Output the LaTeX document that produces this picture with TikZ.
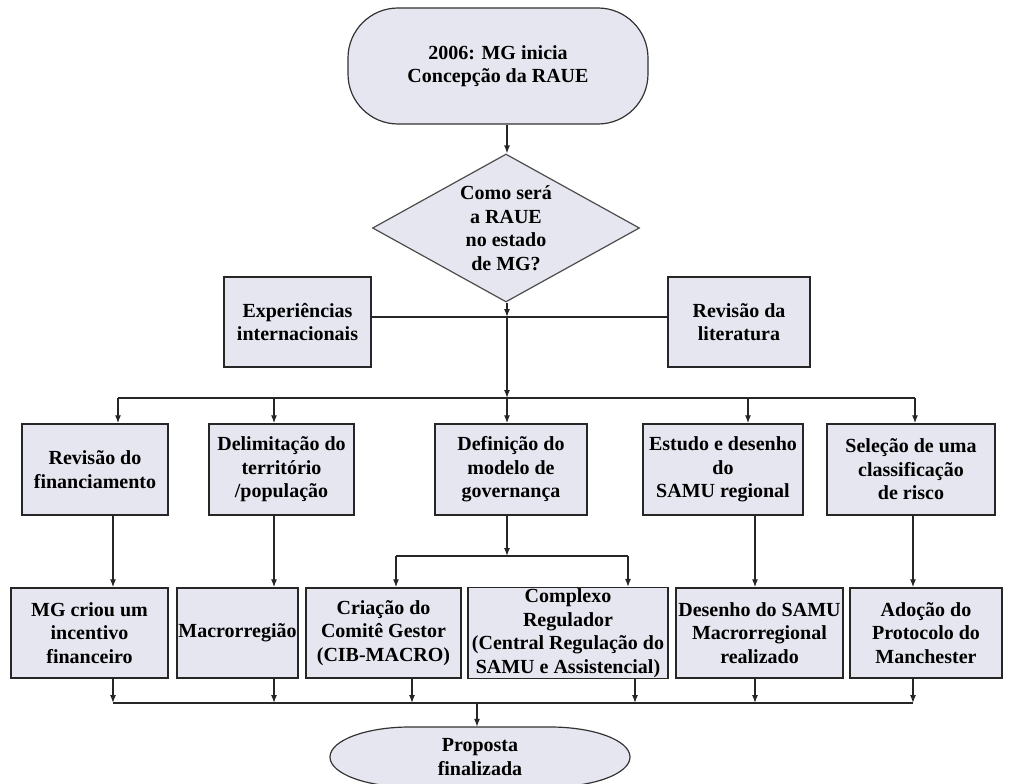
\documentclass[tikz,border=0pt]{standalone}
\usepackage{fontspec}
\setmainfont{Liberation Serif}
\usepackage{tikz}
\usetikzlibrary{shapes,arrows.meta}
\definecolor{fundo}{RGB}{230,230,240}
\tikzstyle{caixa}=[rectangle,draw=black!85,line width=1.5pt,fill=fundo,align=center,inner sep=1pt]
\tikzstyle{decisao}=[diamond,draw=black!70,line width=1.2pt,fill=fundo,align=center,aspect=1.8,inner sep=1pt]
\tikzstyle{terminal}=[rectangle,rounded corners=50pt,draw=black!80,line width=1.2pt,fill=fundo,align=center]
\tikzstyle{linha}=[line width=1.2pt,black!85]

\begin{document}
\begin{tikzpicture}[x=1pt,y=1pt,>={Latex[length=8pt,width=6pt]},font=\bfseries\fontsize{20}{23.5}\selectfont]
        \useasboundingbox (0,0) rectangle (1010,-784);
        \node[terminal,minimum width=300pt,minimum height=116pt] (inicio) at (498,-66) {2006: MG inicia\\Concepção da RAUE};
        \node[decisao,minimum width=267pt,minimum height=148pt] (pergunta) at (506,-228) {Como será\\a RAUE\\no estado\\de MG?};
        \node[caixa,minimum width=147pt,minimum height=90pt] (exp) at (297.5,-322) {Experiências\\internacionais};
        \node[caixa,minimum width=142pt,minimum height=90pt] (lit) at (739,-322) {Revisão da\\literatura};

        \node[caixa,minimum width=146pt,minimum height=91pt] (b1) at (95,-469.5) {Revisão do\\financiamento};
        \node[caixa,minimum width=145pt,minimum height=91pt] (b2) at (281.5,-469.5) {Delimitação do\\território\\/população};
        \node[caixa,minimum width=152pt,minimum height=91pt] (b3) at (511,-469.5) {Definição do\\modelo de\\governança};
        \node[caixa,minimum width=160pt,minimum height=91pt] (b4) at (723,-469.5) {Estudo e desenho\\do\\SAMU regional};
        \node[caixa,minimum width=168pt,minimum height=91pt] (b5) at (911,-469.5) {Seleção de uma\\classificação\\de risco};

        \node[caixa,minimum width=157pt,minimum height=90pt] (c1) at (89.5,-633) {MG criou um\\incentivo\\financeiro};
        \node[caixa,minimum width=121pt,minimum height=90pt] (c2) at (237.5,-633) {Macrorregião};
        \node[caixa,minimum width=155pt,minimum height=90pt] (c3) at (383.5,-633) {Criação do\\Comitê Gestor\\(CIB-MACRO)};
        \node[caixa,minimum width=200pt,minimum height=90pt] (c4) at (568,-633) {Complexo\\Regulador\\(Central Regulação do\\SAMU e Assistencial)};
        \node[caixa,minimum width=167pt,minimum height=90pt] (c5) at (759.5,-633) {Desenho do SAMU\\Macrorregional\\realizado};
        \node[caixa,minimum width=152pt,minimum height=90pt] (c6) at (926,-633) {Adoção do\\Protocolo do\\Manchester};

        \draw[fill=fundo,draw=black!80,line width=1.2pt] (410,-727) -- (550,-727)
            arc[start angle=90,end angle=-90,x radius=80,y radius=30] -- (410,-787)
            arc[start angle=270,end angle=90,x radius=80,y radius=30] -- cycle;
        \node[minimum width=300pt,minimum height=60pt,align=center] (fim) at (480,-757) {Proposta\\finalizada};

        \coordinate (j0) at (507,-317);
        \coordinate (j1) at (507,-398);
        \draw[linha,->] (inicio.south -| j0) -- (pergunta.north -| j0);
        \draw[linha,->] (pergunta.south -| j0) -- (j0);
        \draw[linha] (exp.east |- j0) -- (lit.west |- j0);
        \draw[linha,->] (j0) -- (j1);

        \foreach \n/\x in {1/118,2/274,3/507,4/748,5/915}
            \coordinate (s\n) at (\x,-398);
        \draw[linha] (s1) -- (s5);
        \foreach \n in {1,...,5}
            \draw[linha,->] (s\n) -- (s\n |- b\n.north);

        \foreach \n/\x in {1/113,2/274,3/412,4/635,5/755,6/913}
            \coordinate (e\n) at (\x,-703);
        \foreach \b/\c in {1/1,2/2,4/5,5/6}
            \draw[linha,->] (e\c |- b\b.south) -- (e\c |- c\c.north);

        \coordinate (d0) at (507,-556);
        \coordinate (d1) at (396,-556);
        \coordinate (d2) at (628,-556);
        \draw[linha,->] (d0 |- b3.south) -- (d0);
        \draw[linha] (d1) -- (d2);
        \draw[linha,->] (d1) -- (d1 |- c3.north);
        \draw[linha,->] (d2) -- (d2 |- c4.north);

        \draw[linha] (e1) -- (e6);
        \foreach \n in {1,...,6}
            \draw[linha,->] (e\n |- c\n.south) -- (e\n);
        \coordinate (f0) at (477,-703);
        \draw[linha,->] (f0) -- (f0 |- fim.north);
\end{tikzpicture}
\end{document}
